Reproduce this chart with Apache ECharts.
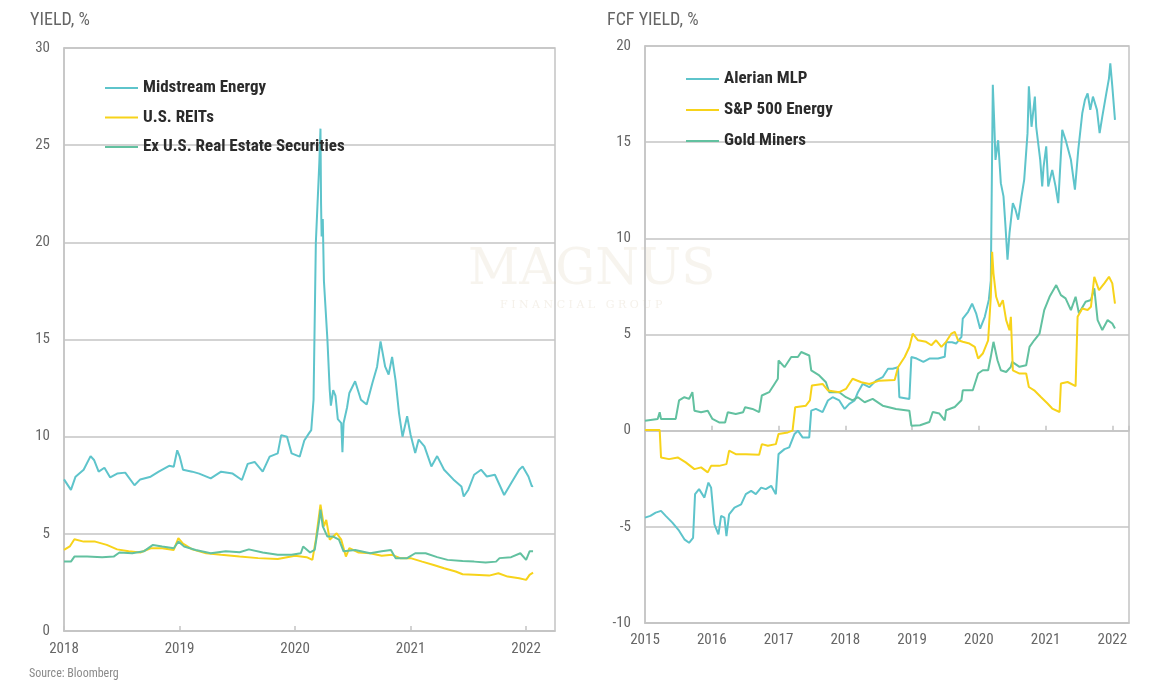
<!DOCTYPE html>
<html>
<head>
<meta charset="utf-8">
<script src="https://cdn.jsdelivr.net/npm/echarts@6/dist/echarts.min.js"></script>
<style>
html,body{margin:0;padding:0;background:#fff;}
#c{width:1155px;height:686px;}
</style>
</head>
<body>
<div id="c"></div>
<script>
// ---------- Left chart: dividend yields (%), x = decimal year ----------
const midstreamEnergy = [
[2018.00,7.8],[2018.06,7.26],[2018.10,7.94],[2018.17,8.3],[2018.23,9.0],[2018.26,8.8],[2018.30,8.2],[2018.35,8.4],
[2018.40,7.9],[2018.46,8.1],[2018.53,8.15],[2018.61,7.5],[2018.66,7.8],[2018.75,7.94],[2018.82,8.2],[2018.91,8.5],
[2018.95,8.45],[2018.98,9.3],[2019.00,9.0],[2019.03,8.3],[2019.11,8.2],[2019.17,8.1],[2019.27,7.85],[2019.36,8.2],
[2019.46,8.1],[2019.54,7.77],[2019.59,8.6],[2019.65,8.7],[2019.72,8.2],[2019.78,8.97],[2019.85,9.14],[2019.88,10.08],
[2019.93,10.0],[2019.97,9.14],[2020.04,8.97],[2020.08,9.8],[2020.12,10.17],[2020.14,10.34],[2020.16,11.9],[2020.18,20.0],
[2020.21,24.1],[2020.22,25.85],[2020.225,22.0],[2020.23,20.3],[2020.24,21.2],[2020.25,18.0],[2020.28,15.0],[2020.30,12.4],
[2020.31,11.6],[2020.33,12.4],[2020.35,12.1],[2020.37,10.9],[2020.40,10.7],[2020.41,9.2],[2020.42,10.7],[2020.45,11.5],
[2020.47,12.25],[2020.52,12.85],[2020.57,11.9],[2020.62,11.65],[2020.67,12.77],[2020.71,13.6],[2020.74,14.9],[2020.78,13.6],
[2020.81,13.2],[2020.84,14.1],[2020.87,12.9],[2020.90,11.2],[2020.93,10.0],[2020.97,11.05],[2021.00,10.1],[2021.04,9.16],
[2021.07,9.85],[2021.12,9.5],[2021.18,8.47],[2021.23,9.0],[2021.29,8.3],[2021.37,7.8],[2021.44,7.44],[2021.46,6.92],
[2021.50,7.27],[2021.55,8.04],[2021.61,8.3],[2021.66,7.95],[2021.73,8.04],[2021.81,7.0],[2021.87,7.6],[2021.94,8.3],
[2021.97,8.47],[2022.02,7.95],[2022.05,7.44],[2022.06,7.47]
];
const usReits = [
[2018.00,4.17],[2018.05,4.35],[2018.09,4.72],[2018.17,4.6],[2018.27,4.6],[2018.37,4.43],[2018.46,4.2],[2018.56,4.1],
[2018.66,4.04],[2018.75,4.26],[2018.85,4.26],[2018.95,4.17],[2018.99,4.78],[2019.03,4.5],[2019.11,4.2],[2019.23,4.0],
[2019.36,3.92],[2019.52,3.83],[2019.68,3.75],[2019.85,3.7],[2020.00,3.87],[2020.10,3.8],[2020.15,3.66],[2020.18,4.7],
[2020.22,6.5],[2020.25,5.38],[2020.27,5.72],[2020.30,4.7],[2020.36,5.03],[2020.40,4.7],[2020.44,3.83],[2020.47,4.26],
[2020.55,4.04],[2020.65,4.0],[2020.75,3.87],[2020.84,3.92],[2020.91,3.75],[2021.00,3.75],[2021.10,3.57],[2021.20,3.4],
[2021.29,3.23],[2021.39,3.06],[2021.45,2.92],[2021.55,2.89],[2021.68,2.85],[2021.76,2.97],[2021.84,2.8],[2021.94,2.71],
[2022.00,2.63],[2022.03,2.89],[2022.06,3.0]
];
const exUsRealEstate = [
[2018.00,3.57],[2018.06,3.57],[2018.09,3.83],[2018.20,3.83],[2018.33,3.8],[2018.43,3.83],[2018.48,4.04],[2018.59,4.0],
[2018.69,4.1],[2018.77,4.43],[2018.85,4.35],[2018.95,4.26],[2018.99,4.6],[2019.04,4.35],[2019.14,4.17],[2019.27,4.0],
[2019.40,4.1],[2019.52,4.05],[2019.60,4.2],[2019.72,4.04],[2019.85,3.92],[2019.97,3.92],[2020.05,4.0],[2020.07,4.35],
[2020.13,4.04],[2020.17,4.17],[2020.21,5.72],[2020.22,6.24],[2020.24,5.38],[2020.28,4.86],[2020.33,4.86],[2020.38,4.7],
[2020.42,4.1],[2020.52,4.17],[2020.65,4.0],[2020.75,4.1],[2020.83,4.17],[2020.87,3.75],[2020.97,3.75],[2021.04,4.0],
[2021.13,4.0],[2021.23,3.8],[2021.32,3.66],[2021.45,3.6],[2021.55,3.57],[2021.65,3.52],[2021.74,3.57],[2021.77,3.75],
[2021.87,3.8],[2021.95,4.0],[2022.00,3.66],[2022.03,4.1],[2022.06,4.1]
];

// ---------- Right chart: FCF yields (%), x = decimal year ----------
const alerianMlp = [
[2015.00,-4.52],[2015.08,-4.43],[2015.16,-4.26],[2015.24,-4.17],[2015.31,-4.43],[2015.41,-4.78],[2015.51,-5.2],[2015.59,-5.65],
[2015.66,-5.83],[2015.72,-5.57],[2015.75,-3.3],[2015.81,-3.04],[2015.89,-3.48],[2015.95,-2.7],[2015.99,-2.96],[2016.04,-4.87],
[2016.10,-5.39],[2016.14,-4.43],[2016.19,-4.52],[2016.22,-5.48],[2016.26,-4.35],[2016.34,-4.0],[2016.44,-3.83],[2016.51,-3.3],
[2016.59,-3.13],[2016.66,-3.3],[2016.74,-2.96],[2016.81,-3.04],[2016.89,-2.87],[2016.96,-3.3],[2017.00,-1.22],[2017.09,-0.96],
[2017.16,-0.87],[2017.24,-0.17],[2017.29,0.0],[2017.36,-0.35],[2017.46,-0.35],[2017.49,1.04],[2017.56,1.13],[2017.66,0.96],
[2017.74,1.57],[2017.81,1.74],[2017.91,1.57],[2017.99,1.13],[2018.06,1.39],[2018.14,1.57],[2018.19,2.0],[2018.26,2.43],
[2018.36,2.26],[2018.46,2.6],[2018.56,2.78],[2018.64,3.22],[2018.71,3.22],[2018.79,3.3],[2018.81,1.74],[2018.96,1.65],
[2018.99,3.83],[2019.07,3.75],[2019.17,3.58],[2019.26,3.75],[2019.39,3.75],[2019.49,3.84],[2019.51,4.6],[2019.60,4.6],
[2019.66,4.53],[2019.74,4.88],[2019.76,5.83],[2019.84,6.18],[2019.90,6.6],[2019.96,6.1],[2020.02,5.3],[2020.09,5.92],
[2020.15,6.8],[2020.18,7.8],[2020.21,17.98],[2020.23,16.16],[2020.25,14.08],[2020.29,15.1],[2020.33,12.87],[2020.37,12.18],
[2020.40,10.62],[2020.43,8.89],[2020.46,10.27],[2020.51,11.83],[2020.55,11.49],[2020.59,10.97],[2020.64,12.18],[2020.68,13.04],
[2020.73,15.47],[2020.75,17.9],[2020.79,15.8],[2020.84,17.37],[2020.86,15.8],[2020.92,14.08],[2020.95,12.7],[2020.97,13.7],
[2021.01,14.78],[2021.04,12.7],[2021.10,13.56],[2021.15,12.7],[2021.19,11.83],[2021.25,15.64],[2021.30,15.12],[2021.38,14.08],
[2021.44,12.53],[2021.49,14.6],[2021.55,16.5],[2021.59,17.2],[2021.63,17.54],[2021.67,16.68],[2021.71,17.37],[2021.77,16.68],
[2021.81,15.47],[2021.85,16.33],[2021.91,17.54],[2021.95,18.32],[2021.97,19.1],[2022.00,17.9],[2022.04,16.16]
];
const sp500Energy = [
[2015.00,0.03],[2015.22,0.03],[2015.24,-1.39],[2015.36,-1.48],[2015.49,-1.39],[2015.61,-1.65],[2015.74,-2.0],[2015.84,-1.91],
[2015.94,-2.17],[2015.99,-1.83],[2016.11,-1.83],[2016.22,-1.74],[2016.26,-1.04],[2016.36,-1.22],[2016.51,-1.22],[2016.71,-1.25],
[2016.75,-0.7],[2016.84,-0.78],[2016.96,-0.7],[2017.00,-0.17],[2017.14,-0.09],[2017.21,0.0],[2017.25,1.22],[2017.41,1.3],
[2017.47,1.57],[2017.50,2.35],[2017.66,2.43],[2017.74,2.09],[2017.91,2.0],[2018.01,2.17],[2018.11,2.7],[2018.24,2.52],
[2018.36,2.43],[2018.51,2.6],[2018.74,2.64],[2018.79,3.3],[2018.89,3.83],[2018.96,4.35],[2019.01,5.04],[2019.03,5.05],
[2019.09,4.7],[2019.21,4.62],[2019.29,4.44],[2019.36,4.7],[2019.44,4.36],[2019.51,4.62],[2019.59,5.05],[2019.64,5.14],
[2019.69,4.7],[2019.76,4.62],[2019.86,4.53],[2019.94,4.36],[2019.99,3.75],[2020.06,4.01],[2020.14,4.7],[2020.18,6.96],
[2020.20,9.3],[2020.22,8.18],[2020.26,6.96],[2020.31,6.44],[2020.36,6.79],[2020.41,5.75],[2020.46,5.23],[2020.48,5.92],
[2020.51,3.14],[2020.61,2.97],[2020.71,2.97],[2020.75,2.27],[2020.83,2.1],[2020.93,1.75],[2021.03,1.41],[2021.10,1.15],
[2021.21,0.97],[2021.23,2.45],[2021.33,2.53],[2021.45,2.31],[2021.48,5.92],[2021.55,6.35],[2021.63,6.27],[2021.68,6.44],
[2021.73,8.0],[2021.80,7.31],[2021.88,7.66],[2021.95,8.0],[2022.00,7.66],[2022.04,6.61]
];
const goldMiners = [
[2015.00,0.52],[2015.19,0.61],[2015.22,0.96],[2015.24,0.61],[2015.46,0.61],[2015.51,1.57],[2015.59,1.74],[2015.66,1.65],
[2015.71,2.0],[2015.74,1.04],[2015.84,0.96],[2015.94,1.04],[2016.01,0.61],[2016.11,0.43],[2016.20,0.43],[2016.24,0.96],
[2016.36,0.87],[2016.47,0.96],[2016.50,1.22],[2016.61,1.13],[2016.71,0.96],[2016.75,1.83],[2016.86,2.0],[2016.94,2.43],
[2016.99,2.7],[2017.00,3.65],[2017.09,3.3],[2017.19,3.83],[2017.29,3.83],[2017.34,4.09],[2017.46,3.91],[2017.49,3.13],
[2017.61,2.87],[2017.71,2.52],[2017.76,2.0],[2017.91,2.0],[2018.01,1.74],[2018.11,1.57],[2018.19,1.74],[2018.29,1.48],
[2018.41,1.65],[2018.56,1.3],[2018.76,1.13],[2018.96,1.04],[2018.99,0.26],[2019.12,0.28],[2019.26,0.45],[2019.31,0.97],
[2019.41,0.89],[2019.49,0.54],[2019.51,1.06],[2019.64,1.23],[2019.74,1.58],[2019.76,2.1],[2019.91,2.1],[2019.99,2.97],
[2020.06,3.14],[2020.14,3.14],[2020.18,3.84],[2020.22,4.62],[2020.28,3.66],[2020.33,3.14],[2020.41,3.05],[2020.48,3.32],
[2020.50,3.58],[2020.61,3.32],[2020.71,3.4],[2020.76,4.36],[2020.83,4.7],[2020.91,5.05],[2020.98,6.27],[2021.06,6.96],
[2021.16,7.57],[2021.23,7.05],[2021.30,6.88],[2021.38,6.27],[2021.45,6.96],[2021.50,6.1],[2021.60,6.7],[2021.68,6.79],
[2021.73,7.4],[2021.78,5.75],[2021.85,5.23],[2021.93,5.75],[2022.00,5.57],[2022.04,5.31]
];

const leftNames = ['Midstream Energy','U.S. REITs','Ex U.S. Real Estate Securities'];
const rightNames = ['Alerian MLP','S&P 500 Energy','Gold Miners'];

const C_CYAN = '#5ec4cb', C_YEL = '#f7d31a', C_GRN = '#62c1a0';
const GRID = '#c4c4c4', LBL = '#666666';
const FONT = '"Liberation Sans Narrow","Roboto Condensed","Liberation Sans",Arial,sans-serif';

const yearFmt = v => (Math.abs(v - Math.round(v)) < 1e-6 ? String(Math.round(v)) : '');

function lineSeries(name, data, color, xi, yi, z) {
  return {name, type:'line', data, xAxisIndex:xi, yAxisIndex:yi, showSymbol:false, symbol:'none',
    lineStyle:{color, width:2}, itemStyle:{color}, z: z||2, animation:false};
}

const legendText = {fontFamily:FONT, fontSize:17, fontWeight:'bold', color:'#2b2b2b', lineHeight:18};

const chart = echarts.init(document.getElementById('c'), null, {renderer:'canvas'});
chart.setOption({
  animation:false,
  backgroundColor:'#fff',
  textStyle:{fontFamily:FONT},
  graphic:[
    {type:'text', left:30, top:11, style:{text:'YIELD, %', font:'18px '+FONT, fill:LBL}},
    {type:'text', left:607, top:11, style:{text:'FCF YIELD, %', font:'18px '+FONT, fill:LBL}},
    {type:'text', left:29, top:668, style:{text:'Source: Bloomberg', font:'12px '+FONT, fill:'#8a8a8a'}},
    {type:'text', left:468, top:246, z:0, silent:true, style:{text:'MAGNUS', font:'50px "DejaVu Serif",serif', fill:'rgba(215,200,170,0.2)'}},
    {type:'text', left:500, top:300, z:0, silent:true, style:{text:'F I N A N C I A L   G R O U P', font:'11px "DejaVu Serif",serif', fill:'rgba(215,200,170,0.25)'}}
  ],
  legend:[
    {data:leftNames, orient:'vertical', left:100, top:74, itemWidth:33, itemHeight:2, itemGap:11.5, icon:'rect', textStyle:legendText},
    {data:rightNames, orient:'vertical', left:681, top:65, itemWidth:33, itemHeight:2, itemGap:13, icon:'rect', textStyle:legendText}
  ],
  grid:[
    {left:64, right:600, top:48, bottom:55, show:true, borderColor:GRID, borderWidth:1.5, backgroundColor:'transparent'},
    {left:645, right:26, top:46, bottom:63, show:true, borderColor:GRID, borderWidth:1.5, backgroundColor:'transparent'}
  ],
  xAxis:[
    {type:'value', gridIndex:0, min:2018, max:2022.25, interval:1,
      axisLine:{show:true, lineStyle:{color:GRID, width:1.5}},
      axisTick:{show:true, inside:true, length:5, lineStyle:{color:GRID, width:1.5}},
      axisLabel:{formatter:yearFmt, showMaxLabel:false, color:LBL, fontSize:15, margin:11, fontFamily:FONT},
      splitLine:{show:false}},
    {type:'value', gridIndex:1, min:2015, max:2022.25, interval:1,
      axisLine:{show:true, onZero:false, lineStyle:{color:GRID, width:1.5}},
      axisTick:{show:false},
      axisLabel:{formatter:yearFmt, showMaxLabel:false, color:LBL, fontSize:15, margin:10, fontFamily:FONT},
      splitLine:{show:false}},
    {type:'value', gridIndex:1, min:2015, max:2022.25, interval:1,
      axisLine:{show:true, onZero:true, lineStyle:{color:GRID, width:1.5}},
      axisTick:{show:true, inside:false, length:5, lineStyle:{color:GRID, width:1.5}},
      axisLabel:{show:false},
      splitLine:{show:false}}
  ],
  yAxis:[
    {type:'value', gridIndex:0, min:0, max:30, interval:5,
      axisLine:{show:true, lineStyle:{color:GRID, width:1.5}}, axisTick:{show:false},
      axisLabel:{color:LBL, fontSize:15, margin:14, fontFamily:FONT},
      splitLine:{show:true, lineStyle:{color:GRID, width:1.5}}},
    {type:'value', gridIndex:1, min:-10, max:20, interval:5,
      axisLine:{show:true, onZero:false, lineStyle:{color:GRID, width:1.5}}, axisTick:{show:false},
      axisLabel:{color:LBL, fontSize:15, margin:14, fontFamily:FONT},
      splitLine:{show:true, lineStyle:{color:GRID, width:1.5}}}
  ],
  series:[
    lineSeries(leftNames[0], midstreamEnergy, C_CYAN, 0, 0, 3),
    lineSeries(leftNames[1], usReits, C_YEL, 0, 0, 2),
    lineSeries(leftNames[2], exUsRealEstate, C_GRN, 0, 0, 3),
    lineSeries(rightNames[0], alerianMlp, C_CYAN, 1, 1, 2),
    lineSeries(rightNames[1], sp500Energy, C_YEL, 1, 1, 3),
    lineSeries(rightNames[2], goldMiners, C_GRN, 1, 1, 2)
  ]
});
</script>
</body>
</html>
